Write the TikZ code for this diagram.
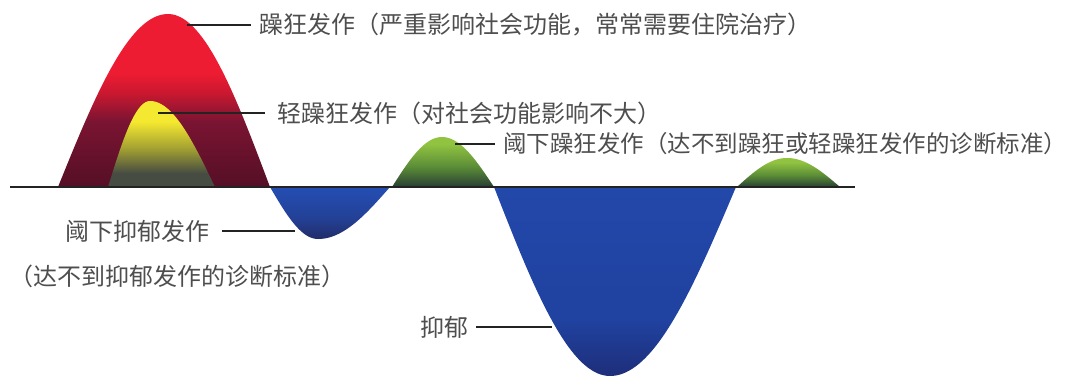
\documentclass[tikz,border=0pt]{standalone}
\usepackage{fontspec}
\newfontfamily\cjk{Noto Sans CJK SC}
\definecolor{rtop}{RGB}{238,28,50}
\definecolor{rmid}{RGB}{200,24,48}
\definecolor{rlow}{RGB}{122,20,50}
\definecolor{rbot}{RGB}{85,15,38}
\definecolor{ytop}{RGB}{245,232,48}
\definecolor{ymid}{RGB}{160,158,50}
\definecolor{ybot}{RGB}{70,76,66}
\definecolor{gtop}{RGB}{145,195,65}
\definecolor{gmid}{RGB}{90,140,55}
\definecolor{gbot}{RGB}{40,62,52}
\definecolor{btop}{RGB}{36,78,180}
\definecolor{bbot}{RGB}{34,44,105}
\definecolor{Btop}{RGB}{34,72,170}
\definecolor{Bmid}{RGB}{32,66,160}
\definecolor{Bbot}{RGB}{30,46,122}
\definecolor{txt}{RGB}{78,78,78}
\definecolor{ln}{RGB}{35,35,35}
\pgfdeclareverticalshading{redsh}{100bp}{color(0bp)=(rbot); color(25bp)=(rbot); color(44bp)=(rlow); color(52bp)=(rmid); color(58bp)=(rtop); color(100bp)=(rtop)}
\pgfdeclareverticalshading{yelsh}{100bp}{color(0bp)=(ybot); color(25bp)=(ybot); color(33bp)=(ybot); color(47bp)=(ymid); color(63bp)=(ytop); color(100bp)=(ytop)}
\pgfdeclareverticalshading{grnsh}{100bp}{color(0bp)=(gbot); color(25bp)=(gbot); color(45bp)=(gmid); color(68bp)=(gtop); color(100bp)=(gtop)}
\pgfdeclareverticalshading{bsmsh}{100bp}{color(0bp)=(bbot); color(25bp)=(bbot); color(45bp)=(btop!60!bbot); color(75bp)=(btop); color(100bp)=(btop)}
\pgfdeclareverticalshading{bbgsh}{100bp}{color(0bp)=(Bbot); color(25bp)=(Bbot); color(40bp)=(Bmid); color(75bp)=(Btop); color(100bp)=(Btop)}
\tikzset{
  lbl/.style={inner sep=0pt, text=txt, font=\cjk\fontsize{24}{28}\selectfont},
  lblsm/.style={lbl, font=\cjk\fontsize{23.5}{28}\selectfont},
  lead/.style={draw=ln, line width=1.8pt},
  base/.style={draw=ln, line width=1.8pt}
}
% hump: x0, xp, x1, baseline y, height (positive = up)
\newcommand{\humppath}[5]{%
  plot[domain=0:1, samples=40, variable=\t] ({#1+(#2-#1)*\t},{#4-(#5)*sin(90*\t)})
  -- plot[domain=0:1, samples=40, variable=\t] ({#2+(#3-#2)*\t},{#4-(#5)*cos(90*\t)})
  -- cycle}
\begin{document}
\begin{tikzpicture}[x=1pt, y=-1pt]
\useasboundingbox (0,0) rectangle (1068,376);
% humps and dips
\shade[shading=redsh] \humppath{58}{168}{270}{187}{173};
\shade[shading=yelsh] \humppath{108}{150}{215}{187}{86};
\shade[shading=grnsh] \humppath{392}{442}{494}{187}{50};
\shade[shading=grnsh] \humppath{737}{787}{840}{187}{29};
\shade[shading=bsmsh] \humppath{270}{318}{390}{187}{-52};
\shade[shading=bbgsh] \humppath{494}{610}{736}{187}{-189};
% baseline
\coordinate (bl) at (10,187);
\coordinate (br) at (855,187);
\draw[base] (bl) -- (br);
% leader start points
\coordinate (c1) at (187,25);
\coordinate (c2) at (158,113);
\coordinate (c3) at (455,144);
\coordinate (c4) at (295,231);
\coordinate (c6) at (552,327);
% labels
\node[lbl, anchor=west] (t1) at (259,25) {躁狂发作（严重影响社会功能，常常需要住院治疗）};
\node[lbl, anchor=west] (t2) at (277,113) {轻躁狂发作（对社会功能影响不大）};
\node[lblsm, anchor=west] (t3) at (503,144) {阈下躁狂发作（达不到躁狂或轻躁狂发作的诊断标准）};
\node[lbl, anchor=east] (t4) at (210,231) {阈下抑郁发作};
\node[lbl, anchor=west] (t5) at (9,276) {（达不到抑郁发作的诊断标准）};
\node[lbl, anchor=east] (t6) at (469,327) {抑郁};
% leaders
\draw[lead, shorten >=8pt] (c1) -- (c1 -| t1.west);
\draw[lead, shorten >=12pt] (c2) -- (c2 -| t2.west);
\draw[lead, shorten >=8pt] (c3) -- (c3 -| t3.west);
\draw[lead, shorten >=12pt] (c4) -- (c4 -| t4.east);
\draw[lead, shorten >=7pt] (c6) -- (c6 -| t6.east);
\end{tikzpicture}
\end{document}
